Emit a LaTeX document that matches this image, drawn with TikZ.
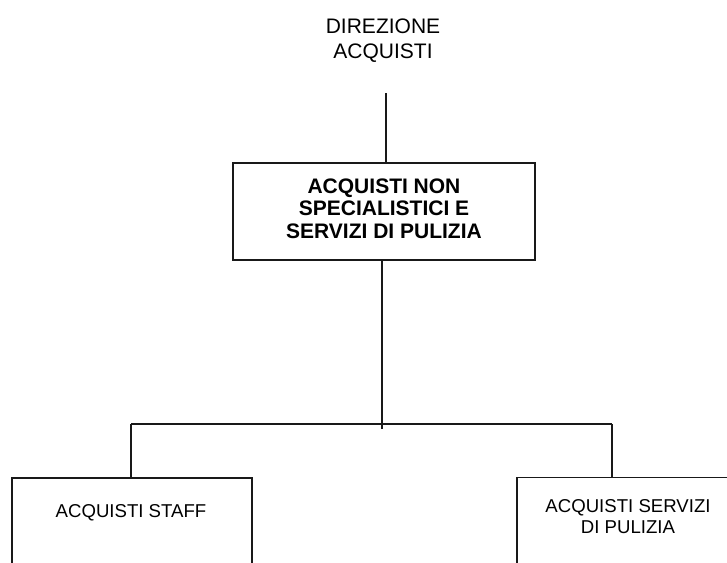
\documentclass[tikz,border=0pt]{standalone}
\usepackage{fontspec}
\setmainfont{Liberation Sans}
\begin{document}
\begin{tikzpicture}[x=1pt,y=-1pt,
  conn/.style={line width=1.8pt, draw=black!90},
  boxframe/.style={draw=black!90, line width=1.8pt, rectangle, inner sep=0pt},
  headtext/.style={align=center, inner sep=0pt, font=\fontsize{21}{25.5}\selectfont},
  maintext/.style={align=center, font=\bfseries\fontsize{21}{22.5}\selectfont},
  subtext/.style={align=center, inner sep=0pt, font=\fontsize{18.6}{21}\selectfont}]
\useasboundingbox (0,0) rectangle (727,562);
\clip (0,0) rectangle (727,562);

% heading
\node[headtext, anchor=north] (dir) at (383,18.3) {DIREZIONE\\ACQUISTI};

% central office
\node[boxframe, maintext, minimum width=302pt, minimum height=97pt] (main) at (384,211.5)
  {ACQUISTI NON\\SPECIALISTICI E\\SERVIZI DI PULIZIA\rule[-6.6pt]{0pt}{0pt}};

% lower offices (they continue below the page edge)
\node[boxframe, anchor=north, minimum width=240.3pt, minimum height=160pt] (staff) at (132,477) {};
\node[subtext, anchor=base] (stafft) at (131,517) {ACQUISTI STAFF};
\node[boxframe, anchor=north west, minimum width=240pt, minimum height=160pt] (clean) at (516,476.5) {};
\node[subtext, anchor=base] (cleant) at (628,533) {ACQUISTI SERVIZI\\DI PULIZIA};

% connectors
\coordinate (top) at (385.7,93);
\coordinate (busL) at (131,424);
\coordinate (busR) at (612,424);
\coordinate (tick) at (381.7,429);
\draw[conn] (top) -- (top |- main.north);
\draw[conn] (main.south -| tick) -- (tick);
\draw[conn] (busL) -- (busR);
\draw[conn] (busL) -- (busL |- staff.north);
\draw[conn] (busR) -- (busR |- clean.north);
\end{tikzpicture}
\end{document}
